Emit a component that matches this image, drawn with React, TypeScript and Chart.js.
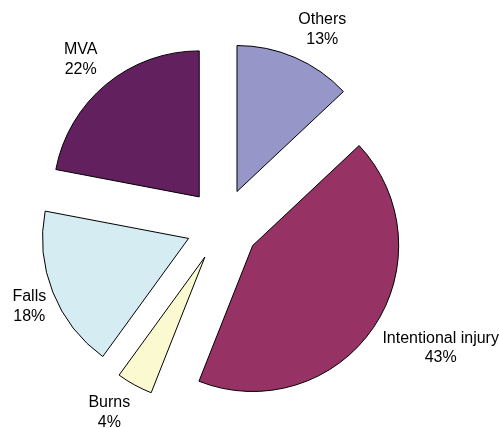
import React, { useEffect, useRef } from "react";
import { Chart, registerables } from "chart.js";

Chart.register(...registerables);

const categories = ["Others", "Intentional injury", "Burns", "Falls", "MVA"];
const shares = [13, 43, 4, 18, 22];
const sliceColors = ["#9696C8", "#973265", "#FAF9D0", "#D4ECF2", "#62205F"];

// small manual label adjustments (layout only)
const labelNudgeX = [11, 5, -7, 8, -4];
const labelNudgeY = [4.5, 0.5, -3.5, 1.5, 2.5];

const EXPLODE = 36.5;
const LABEL_GAP = 17;
const FONT = '16px "Liberation Sans", Arial, sans-serif';
const LINE_H = 19.5;

const explodePlugin = {
  id: "explode",
  beforeDatasetDraw(chart: any, args: any) {
    const ctx = chart.ctx;
    args.meta.data.forEach((arc: any) => {
      const { startAngle, endAngle } = arc.getProps(["startAngle", "endAngle"], true);
      const mid = (startAngle + endAngle) / 2;
      ctx.save();
      ctx.translate(Math.cos(mid) * EXPLODE, Math.sin(mid) * EXPLODE);
      arc.draw(ctx, chart.chartArea);
      ctx.restore();
    });
    return false;
  },
  afterDatasetsDraw(chart: any) {
    const ctx = chart.ctx;
    const meta = chart.getDatasetMeta(0);
    ctx.save();
    ctx.font = FONT;
    ctx.fillStyle = "#000";
    ctx.textAlign = "center";
    ctx.textBaseline = "middle";
    meta.data.forEach((arc: any, i: number) => {
      const { startAngle, endAngle, x, y, outerRadius } = arc.getProps(
        ["startAngle", "endAngle", "x", "y", "outerRadius"],
        true
      );
      const mid = (startAngle + endAngle) / 2;
      const dx = Math.cos(mid);
      const dy = Math.sin(mid);
      const lines = [categories[i], shares[i] + "%"];
      const w = Math.max(...lines.map((l) => ctx.measureText(l).width));
      const h = LINE_H * lines.length - 2;
      const dist = outerRadius + EXPLODE + LABEL_GAP;
      const cx = x + dx * dist + (dx * w) / 2 + labelNudgeX[i];
      const cy = y + dy * dist + (dy * h) / 2 + labelNudgeY[i];
      lines.forEach((l, k) => {
        ctx.fillText(l, cx, cy + (k - (lines.length - 1) / 2) * LINE_H);
      });
    });
    ctx.restore();
  },
};

export default function App() {
  const ref = useRef<HTMLCanvasElement>(null);
  useEffect(() => {
    if (!ref.current) return;
    const chart = new Chart(ref.current, {
      type: "pie",
      data: {
        labels: categories,
        datasets: [
          {
            data: shares,
            backgroundColor: sliceColors,
            borderColor: "#000000",
            borderWidth: 1,
            radius: 146,
          } as any,
        ],
      },
      options: {
        responsive: false,
        animation: false,
        events: [],
        layout: { padding: { left: 0, right: 54, top: 22, bottom: 0 } },
        plugins: {
          legend: { display: false },
          tooltip: { enabled: false },
        },
      },
      plugins: [explodePlugin],
    });
    return () => chart.destroy();
  }, []);
  return (
    <div style={{ position: "absolute", left: 0, top: 0, width: 499, height: 428, background: "#fff" }}>
      <canvas ref={ref} width={499} height={428} />
    </div>
  );
}
